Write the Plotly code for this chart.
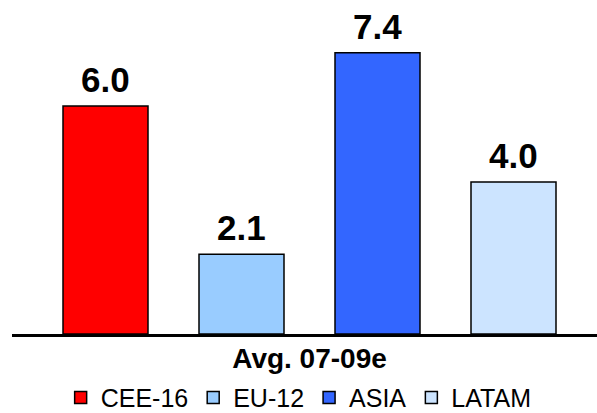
import plotly.graph_objects as go

category_label = "Avg. 07-09e"
series_names = ["CEE-16", "EU-12", "ASIA", "LATAM"]
series_values = [6.0, 2.1, 7.4, 4.0]
colors = ["#FF0000", "#99CCFF", "#3366FF", "#CCE4FF"]

FONT = "Liberation Sans, Arial"

fig = go.Figure()
for i, (name, val, col) in enumerate(zip(series_names, series_values, colors)):
    fig.add_trace(go.Bar(
        x=[i], y=[val], name=name, width=0.625,
        marker=dict(color=col, line=dict(color="#000000", width=1.5)),
        cliponaxis=False,
    ))
    fig.add_annotation(
        x=i, y=val, xref="x", yref="y", text=f"{val:.1f}",
        showarrow=False, yanchor="bottom", yshift=5,
        font=dict(family=FONT, size=35, color="#000000", weight="bold"),
    )

fig.update_layout(
    width=597, height=413,
    margin=dict(l=12, r=0, t=10, b=79, autoexpand=False),
    paper_bgcolor="white", plot_bgcolor="white",
    barmode="overlay",
    showlegend=True,
    legend=dict(orientation="h", x=0.49, xanchor="center",
                yref="paper", y=-0.197, yanchor="middle",
                font=dict(family=FONT, size=25, color="#000000"),
                itemwidth=30, tracegroupgap=0),
    xaxis=dict(range=[-0.6875, 3.614], tickvals=[1.5], ticktext=[category_label],
               showline=True, linecolor="#000000", linewidth=3, ticks="",
               showgrid=False, zeroline=False, automargin=False,
               ticklabelstandoff=-3,
               tickfont=dict(family=FONT, size=28, color="#000000", weight="bold")),
    yaxis=dict(range=[0, 324/38], visible=False, showgrid=False, zeroline=False),
)

fig.write_html("out.html")
